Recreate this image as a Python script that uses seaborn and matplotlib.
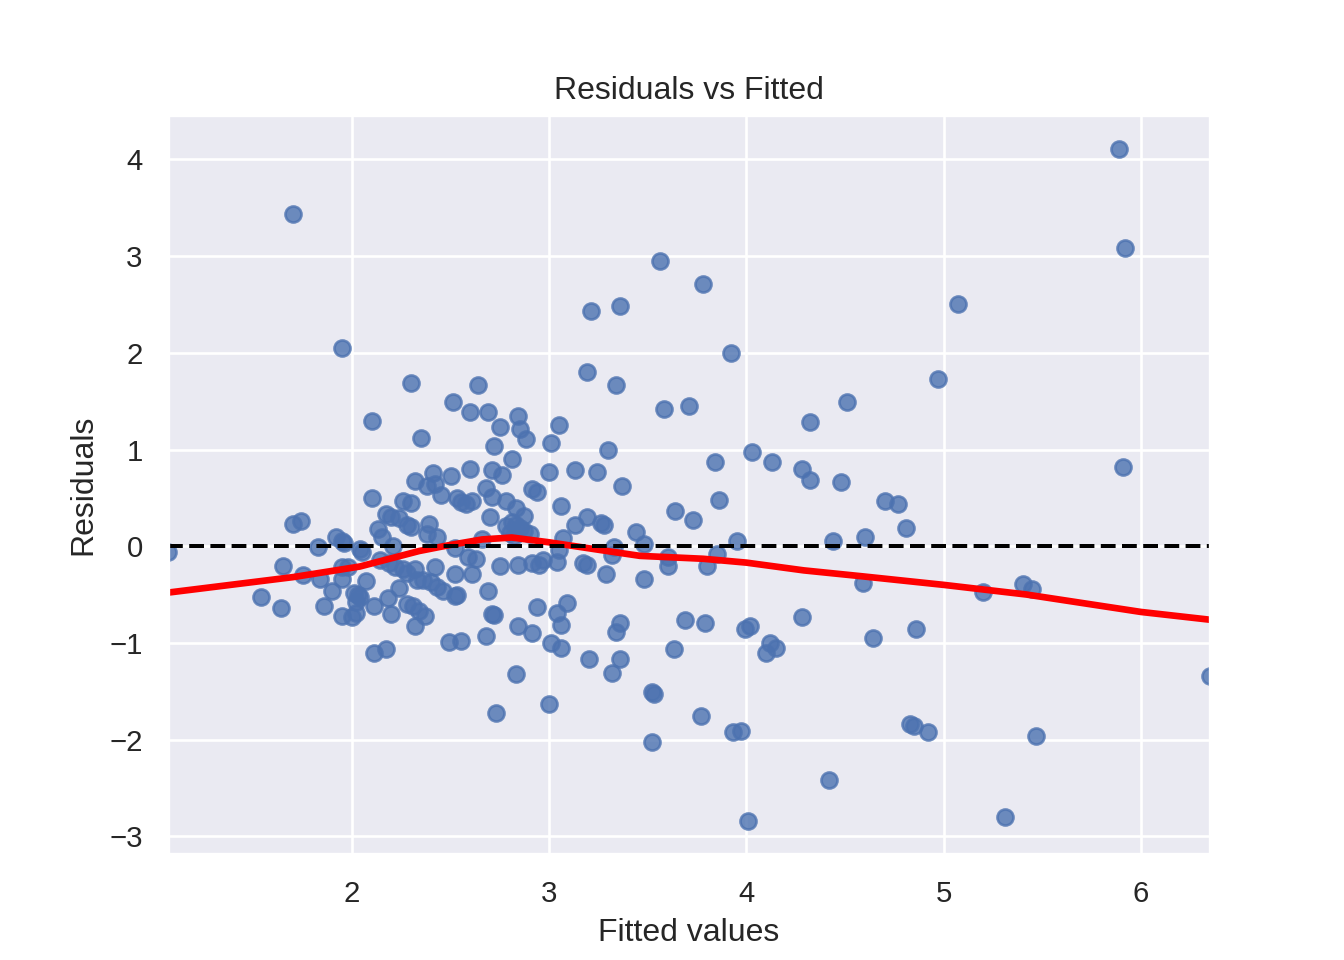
import numpy as np
import pandas as pd
import matplotlib
matplotlib.use("Agg")
import matplotlib.pyplot as plt
import seaborn as sns

# valori: valori stimati e residui
fitted = [
    1.067, 1.54, 1.64, 1.65, 1.70, 1.74, 1.70, 1.75, 1.83, 1.84,
    1.86, 1.90, 1.92, 1.95, 1.96, 1.95, 1.98, 1.95, 1.95, 1.95,
    2.00, 2.01, 2.03, 2.04, 2.02, 2.02, 2.04, 2.05, 2.07, 2.10,
    2.10, 2.11, 2.11, 2.13, 2.14, 2.15, 2.17, 2.17, 2.18, 2.19,
    2.20, 2.20, 2.21, 2.22, 2.24, 2.24, 2.26, 2.26, 2.28, 2.28,
    2.28, 2.30, 2.30, 2.30, 2.31, 2.32, 2.32, 2.32, 2.33, 2.35,
    2.36, 2.37, 2.34, 2.38, 2.38, 2.39, 2.40, 2.41, 2.42, 2.42,
    2.43, 2.43, 2.45, 2.46, 2.49, 2.50, 2.51, 2.52, 2.52, 2.52,
    2.53, 2.53, 2.55, 2.55, 2.58, 2.59, 2.60, 2.60, 2.61, 2.61,
    2.63, 2.64, 2.66, 2.68, 2.68, 2.69, 2.69, 2.70, 2.71, 2.71,
    2.71, 2.72, 2.72, 2.73, 2.75, 2.75, 2.76, 2.78, 2.78, 2.80,
    2.81, 2.81, 2.82, 2.83, 2.83, 2.83, 2.84, 2.84, 2.84, 2.85,
    2.85, 2.87, 2.87, 2.88, 2.90, 2.91, 2.91, 2.91, 2.94, 2.94,
    2.95, 2.97, 3.00, 3.00, 3.01, 3.01, 3.04, 3.04, 3.05, 3.05,
    3.06, 3.06, 3.06, 3.07, 3.09, 3.13, 3.13, 3.17, 3.19, 3.19,
    3.19, 3.20, 3.21, 3.24, 3.26, 3.28, 3.29, 3.30, 3.32, 3.32,
    3.33, 3.34, 3.34, 3.36, 3.36, 3.36, 3.37, 3.44, 3.48, 3.48,
    3.52, 3.53, 3.52, 3.56, 3.58, 3.60, 3.60, 3.63, 3.64, 3.69,
    3.71, 3.73, 3.77, 3.78, 3.79, 3.80, 3.84, 3.85, 3.86, 3.92,
    3.93, 3.95, 3.97, 3.99, 4.01, 4.02, 4.03, 4.10, 4.12, 4.13,
    4.15, 4.28, 4.28, 4.32, 4.32, 4.42, 4.44, 4.48, 4.51, 4.59,
    4.60, 4.64, 4.70, 4.77, 4.81, 4.83, 4.85, 4.86, 4.92, 4.97,
    5.07, 5.20, 5.31, 5.40, 5.45, 5.47, 5.89, 5.91, 5.92, 6.348,
]
residuals = [
    -0.06, -0.53, -0.64, -0.20, 0.23, 0.26, 3.44, -0.30, -0.01, -0.34,
    -0.62, -0.46, 0.09, 0.05, 0.03, -0.21, -0.21, -0.34, -0.72, 2.05,
    -0.73, -0.48, -0.50, -0.53, -0.58, -0.69, -0.03, -0.06, -0.36, 1.29,
    0.50, -1.10, -0.62, 0.18, -0.14, 0.09, 0.33, -1.06, -0.54, -0.17,
    0.30, -0.70, 0.00, -0.21, -0.43, 0.29, -0.24, 0.47, 0.22, -0.28,
    -0.60, 0.20, 0.45, 1.69, -0.62, 0.67, -0.83, -0.24, -0.35, 1.12,
    -0.35, -0.72, -0.67, 0.13, 0.62, 0.23, -0.37, 0.76, 0.64, -0.22,
    0.09, -0.42, 0.53, -0.46, -0.99, 0.73, 1.49, -0.02, -0.29, -0.52,
    -0.50, 0.50, 0.46, -0.98, 0.44, -0.11, 1.39, 0.80, 0.47, -0.29,
    -0.13, 1.67, 0.07, 0.60, -0.93, 1.39, -0.46, 0.30, -0.70, 0.79,
    0.51, -0.71, 1.04, -1.72, -0.20, 1.23, 0.74, 0.21, 0.47, 0.14,
    0.25, 0.90, 0.11, -1.32, 0.39, 0.22, -0.19, -0.83, 1.35, 1.21,
    0.19, 0.31, 0.16, 1.11, 0.13, -0.17, 0.59, -0.90, 0.56, -0.63,
    -0.19, -0.14, 0.77, -1.63, 1.07, -1.00, -0.16, -0.69, 1.25, -0.04,
    -0.82, 0.42, -1.05, 0.08, -0.59, 0.22, 0.79, -0.17, -0.19, 1.80,
    0.30, -1.17, 2.43, 0.77, 0.24, 0.22, -0.29, 1.00, -1.31, -0.09,
    -0.01, 1.67, -0.89, 2.48, -0.79, -1.17, 0.62, 0.15, 0.02, -0.34,
    -1.51, -1.53, -2.02, 2.95, 1.42, -0.11, -0.20, -1.06, 0.36, -0.76,
    1.45, 0.27, -1.76, 2.71, -0.79, -0.20, 0.87, -0.08, 0.48, 2.00,
    -1.92, 0.05, -1.91, -0.86, -2.84, -0.83, 0.97, -1.10, -1.00, 0.87,
    -1.05, 0.80, -0.73, 1.28, 0.68, -2.42, 0.05, 0.66, 1.49, -0.38,
    0.09, -0.95, 0.47, 0.44, 0.19, -1.84, -1.86, -0.86, -1.92, 1.73,
    2.50, -0.47, -2.80, -0.39, -0.44, -1.96, 4.11, 0.82, 3.08, -1.34,
]

# curva lowess
lowess_x = [1.067, 1.70, 2.04, 2.34, 2.49, 2.66, 2.81, 3.00, 3.26, 3.46,
            3.78, 4.00, 4.29, 4.58, 5.00, 5.42, 6.00, 6.348]
lowess_y = [-0.48, -0.32, -0.21, -0.05, 0.01, 0.07, 0.09, 0.04, -0.04, -0.10,
            -0.13, -0.17, -0.25, -0.31, -0.40, -0.50, -0.68, -0.76]

df = pd.DataFrame({'fitted': fitted, 'residuals': residuals})

sns.set_theme()
plt.rcParams['font.family'] = ['Liberation Sans', 'DejaVu Sans']
fig, ax = plt.subplots(figsize=(7, 5), dpi=192)

sns.regplot(x='fitted', y='residuals', data=df, fit_reg=False, ax=ax)
ax.plot(lowess_x, lowess_y, color='red', lw=2.5)
ax.axhline(0, color='black', linestyle='--')

ax.set_xlim(min(fitted), max(fitted))
ax.set_title('Residuals vs Fitted')
ax.set_xlabel('Fitted values')
ax.set_ylabel('Residuals')

plt.savefig('out.png', dpi=192)
